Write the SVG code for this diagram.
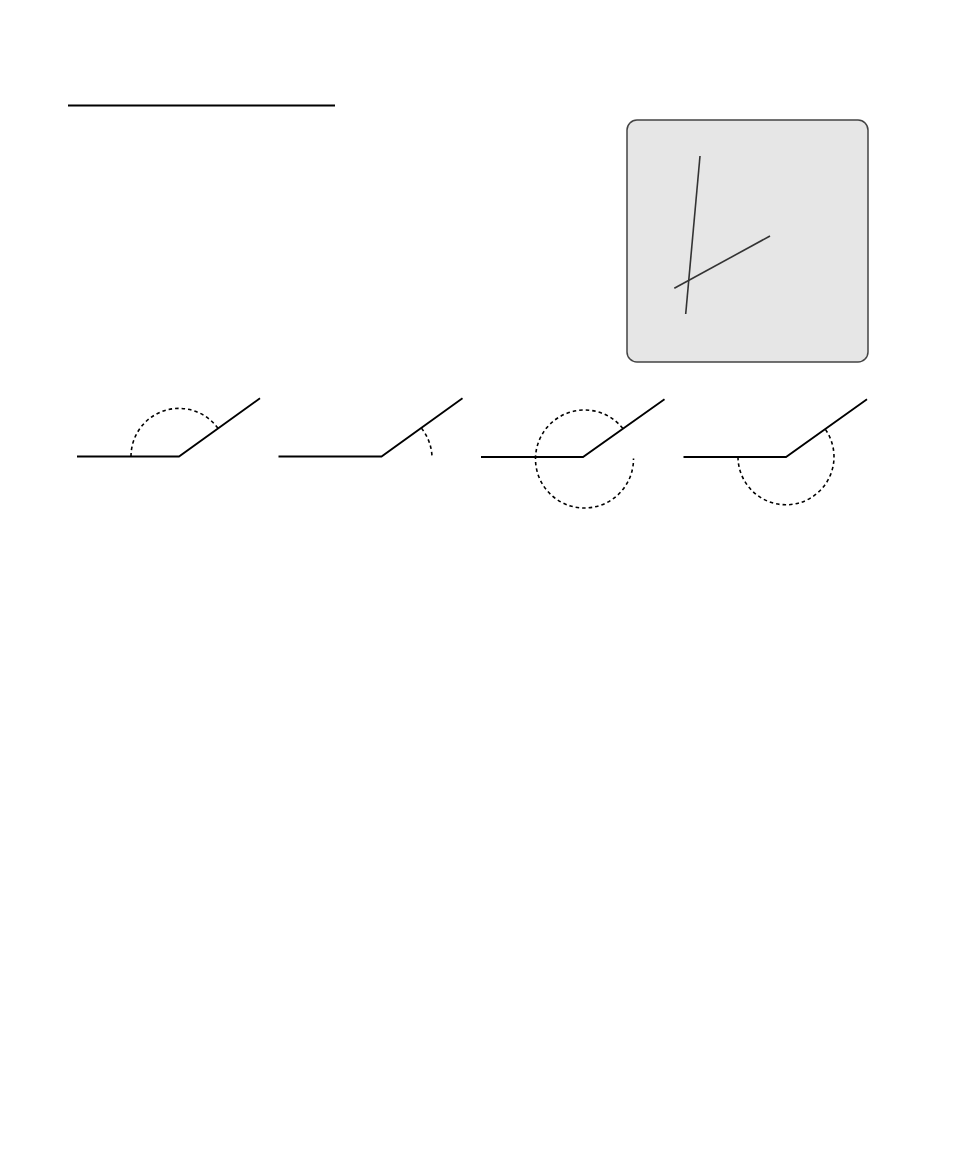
<svg xmlns="http://www.w3.org/2000/svg" width="954" height="1158" viewBox="0 0 954 1158">
<style>
.ln{stroke:#000;stroke-width:1.8;fill:none;stroke-linecap:butt}
.arc{stroke:#000;stroke-width:1.6;fill:none;stroke-dasharray:3.5 3}
.inner{stroke:#333;stroke-width:1.6;fill:none}
</style>
<rect width="954" height="1158" fill="#fff"/>
<g id="title-rule">
<line x1="68" y1="105.5" x2="335" y2="105.5" stroke="#000" stroke-width="2.2"/>
</g>
<g id="box">
<rect x="627" y="120" width="241" height="242" rx="10" ry="10" fill="#e6e6e6" stroke="#444" stroke-width="1.5"/>
<line class="inner" x1="700" y1="156" x2="685.7" y2="314"/>
<line class="inner" x1="674.3" y1="288.3" x2="770" y2="236"/>
</g>
<g id="angle1">
<polyline class="ln" points="77,456.5 179,456.5 260,398.3"/>
<path class="arc" d="M131,456.5 A48,48 0 0 1 218,428.4"/>
</g>
<g id="angle2">
<polyline class="ln" points="278.5,456.5 381.5,456.5 462.5,398.3"/>
<path class="arc" d="M421.5,428.2 A49,49 0 0 1 432,456.5"/>
</g>
<g id="angle3">
<polyline class="ln" points="481,457 583,457 664.5,399.3"/>
<path class="arc" d="M622.7,428.3 A49,49 0 1 0 633.5,458.5"/>
</g>
<g id="angle4">
<polyline class="ln" points="683.5,457 786,457 867,399.3"/>
<path class="arc" d="M738,457 A48,48 0 1 0 825,428.8"/>
</g>
</svg>
